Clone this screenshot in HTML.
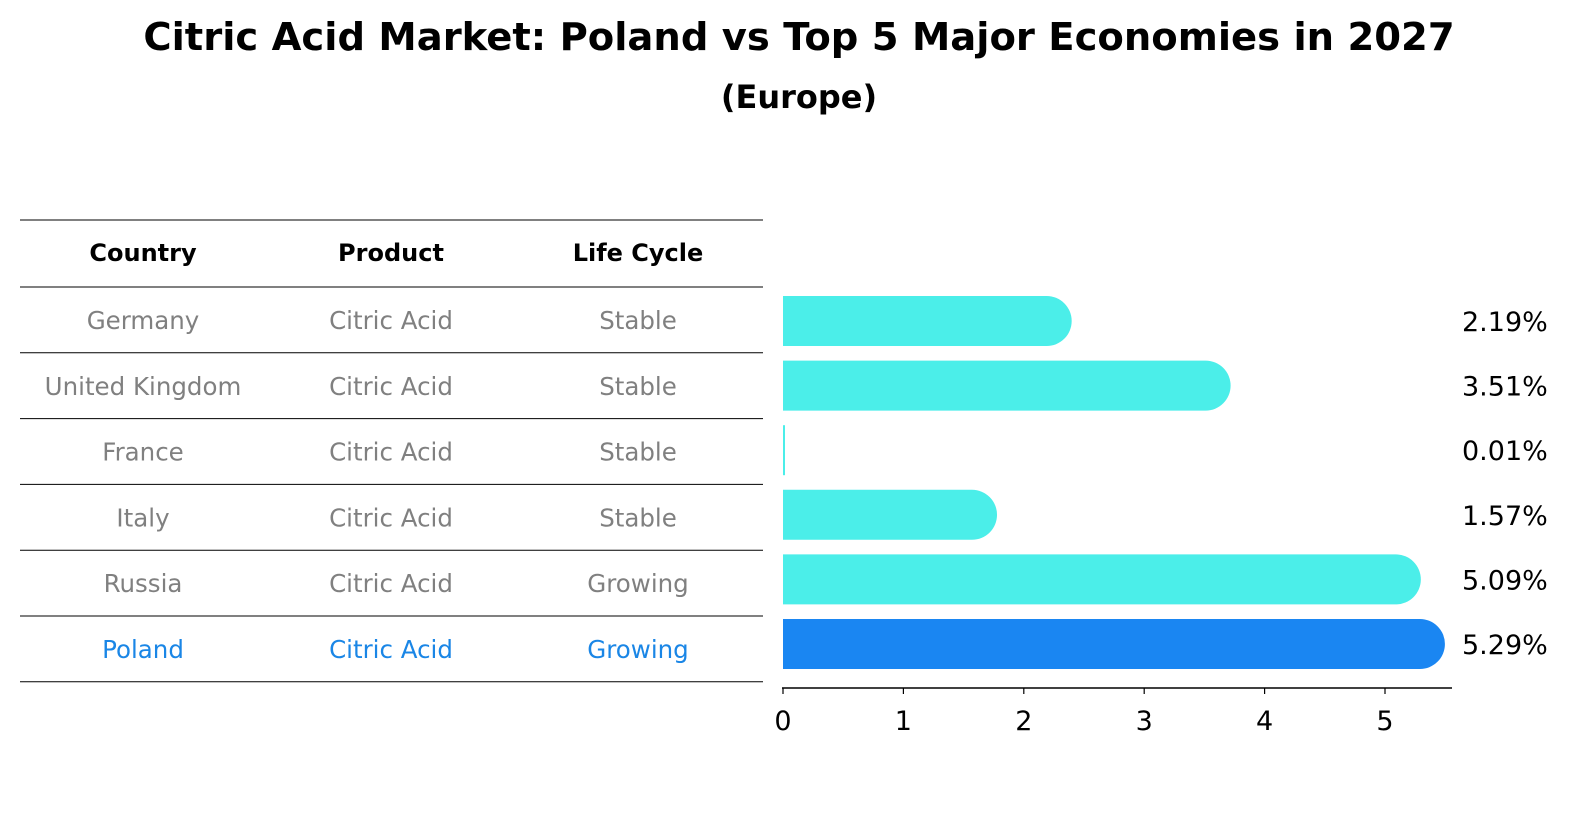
<!DOCTYPE html>
<html><head><meta charset="utf-8"><style>
body{margin:0;background:#fff;font-family:"DejaVu Sans","Liberation Sans",sans-serif;}
svg text{font-family:"DejaVu Sans","Liberation Sans",sans-serif;}
</style></head><body>
<svg width="1586" height="823" xmlns="http://www.w3.org/2000/svg" id="chart">
<text x="799" y="50" text-anchor="middle" font-size="38.5" font-weight="bold">Citric Acid Market: Poland vs Top 5 Major Economies in 2027</text>
<text x="799" y="108" text-anchor="middle" font-size="32" font-weight="bold">(Europe)</text>
<g id="table"></g>
<g id="bars"></g>
</svg>
<script>
const countries=["Germany","United Kingdom","France","Italy","Russia","Poland"];
const products=["Citric Acid","Citric Acid","Citric Acid","Citric Acid","Citric Acid","Citric Acid"];
const lifecycles=["Stable","Stable","Stable","Stable","Growing","Growing"];
const values=[2.19,3.51,0.01,1.57,5.09,5.29];
const ticks=[0,1,2,3,4,5];
const NS="http://www.w3.org/2000/svg";
const tbl=document.getElementById('table'),bars=document.getElementById('bars');
function mk(p,tag,a,txt){const e=document.createElementNS(NS,tag);for(const k in a)e.setAttribute(k,a[k]);if(txt!==undefined)e.textContent=txt;p.appendChild(e);return e;}
const x=v=>783+v*120.4;
const rowY=i=>321+i*64.6;
const colX=[143,391,638];
const lineYs=[220,287];for(let i=0;i<countries.length;i++)lineYs.push(287+(i+1)*65.8);
lineYs.forEach((y,i)=>{const l=mk(tbl,'line',{x1:20,x2:763,y1:y,y2:y,stroke:'#000','stroke-width':1});

});
["Country","Product","Life Cycle"].forEach((h,j)=>{const t=mk(tbl,'text',{x:colX[j],y:261,'text-anchor':'middle','font-size':24,'font-weight':'bold'},h);

});
countries.forEach((c,i)=>{const y=287+i*65.8+33+9;const col=c==="Poland"?'#1a86e6':'#808080';
[c,products[i],lifecycles[i]].forEach((v,j)=>{const t=mk(tbl,'text',{x:colX[j],y:y,'text-anchor':'middle','font-size':24.5,fill:col},v);

});});
const h=50,r=25;
values.forEach((v,i)=>{const cy=rowY(i);const col=countries[i]==="Poland"?'#1a86f2':'#4beee9';
const p=mk(bars,'path',{d:`M${x(0)},${cy-h/2} H${x(v)} A${r},${r} 0 0 1 ${x(v)},${cy+h/2} H${x(0)} Z`,fill:col});
if(v<0.05){p.setAttribute('d',`M${x(0)},${cy-h/2} h2 v${h} h-2 Z`);}


const t=mk(bars,'text',{x:1462,y:cy+10,'font-size':27},v.toFixed(2)+'%');

});
const ax=mk(bars,'line',{x1:782,x2:1452,y1:688,y2:688,stroke:'#000','stroke-width':1.5});


ticks.forEach(t=>{const l=mk(bars,'line',{x1:x(t),x2:x(t),y1:688,y2:694,stroke:'#000','stroke-width':1.2});


const tx=mk(bars,'text',{x:x(t),y:730,'text-anchor':'middle','font-size':27},String(t));

});
</script>
</body></html>
